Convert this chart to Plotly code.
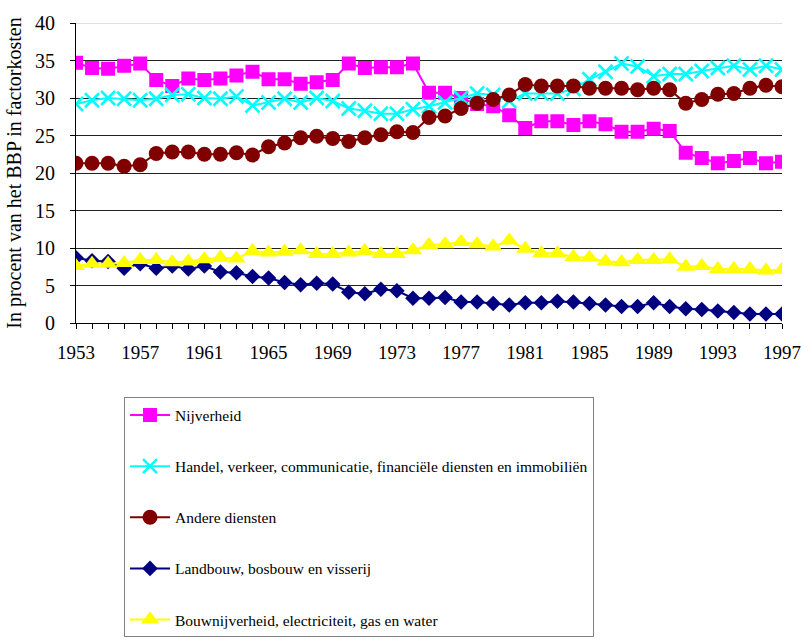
import plotly.graph_objects as go

years = list(range(1953, 1998))

nijverheid = [34.7, 34.0, 33.9, 34.3, 34.6, 32.4, 31.6, 32.6, 32.4, 32.6,
              33.0, 33.5, 32.5, 32.5, 31.9, 32.1, 32.4, 34.6, 34.0, 34.1,
              34.1, 34.6, 30.7, 30.7, 30.0, 29.2, 28.9, 27.7, 26.0, 26.9,
              26.9, 26.4, 26.9, 26.5, 25.5, 25.5, 25.9, 25.6, 22.7, 22.0,
              21.3, 21.6, 22.0, 21.3, 21.5]

handel = [29.2, 29.7, 30.0, 29.9, 29.7, 29.9, 30.4, 30.5, 30.0, 29.9,
          30.2, 29.0, 29.4, 29.9, 29.4, 30.0, 29.6, 28.6, 28.3, 27.9,
          27.9, 28.5, 28.9, 29.4, 30.0, 30.6, 30.4, 29.6, 30.6, 30.6,
          30.6, 31.2, 32.5, 33.5, 34.6, 34.2, 32.9, 33.2, 33.2, 33.6,
          34.0, 34.3, 33.8, 34.3, 33.8]

andere = [21.3, 21.3, 21.3, 20.9, 21.1, 22.6, 22.8, 22.8, 22.5, 22.5,
          22.7, 22.4, 23.5, 24.0, 24.7, 24.9, 24.6, 24.2, 24.7, 25.1,
          25.5, 25.4, 27.4, 27.6, 28.6, 29.3, 29.8, 30.4, 31.8, 31.6,
          31.6, 31.6, 31.3, 31.3, 31.3, 31.1, 31.3, 31.1, 29.3, 29.8,
          30.5, 30.6, 31.3, 31.7, 31.5]

landbouw = [8.7, 8.3, 8.2, 7.3, 7.9, 7.3, 7.6, 7.2, 7.6, 6.8,
            6.7, 6.2, 6.0, 5.4, 5.1, 5.3, 5.2, 4.1, 3.9, 4.5,
            4.3, 3.3, 3.3, 3.4, 2.8, 2.8, 2.6, 2.4, 2.7, 2.7,
            2.9, 2.8, 2.6, 2.4, 2.2, 2.2, 2.7, 2.2, 1.9, 1.8,
            1.6, 1.4, 1.2, 1.2, 1.2]

bouw = [7.6, 7.9, 7.9, 8.0, 8.4, 8.4, 8.1, 8.2, 8.5, 8.7,
        8.6, 9.6, 9.4, 9.5, 9.7, 9.2, 9.2, 9.4, 9.6, 9.2,
        9.2, 9.7, 10.4, 10.5, 10.8, 10.5, 10.2, 11.0, 9.9, 9.3,
        9.3, 8.8, 8.7, 8.2, 8.1, 8.4, 8.4, 8.5, 7.5, 7.6,
        7.2, 7.2, 7.2, 7.0, 7.1]

series_names = [
    "Nijverheid",
    "Handel, verkeer, communicatie, financiële diensten en immobiliën",
    "Andere diensten",
    "Landbouw, bosbouw en visserij",
    "Bouwnijverheid, electriciteit, gas en water",
]

x_tick_years = list(range(1953, 1998, 4))
y_ticks = list(range(0, 41, 5))

FONT = "Liberation Serif"

styles = [
    dict(color="#FF00FF", symbol="square", size=14, lw=0),
    dict(color="#00FFFF", symbol="x-thin", size=14, lw=2.5),
    dict(color="#800000", symbol="circle", size=15, lw=0),
    dict(color="#000080", symbol="diamond", size=12, lw=0),
    dict(color="#FFFF00", symbol="triangle-up", size=16, lw=0),
]

fig = go.Figure()
for name, values, st in zip(series_names, [nijverheid, handel, andere, landbouw, bouw], styles):
    marker = dict(symbol=st["symbol"], size=st["size"], color=st["color"])
    if st["lw"]:
        marker["line"] = dict(color=st["color"], width=st["lw"])
    else:
        marker["line"] = dict(width=0)
    fig.add_trace(go.Scatter(
        x=years, y=values, name=name, mode="lines+markers",
        line=dict(color=st["color"], width=2),
        marker=marker, legendgroup=name,
    ))

fig.update_layout(
    width=801, height=643,
    margin=dict(l=76, r=19, t=23, b=320, autoexpand=False),
    paper_bgcolor="white", plot_bgcolor="white",
    font=dict(family=FONT, size=18, color="black"),
    showlegend=True,
    legend=dict(
        x=0.068, y=-0.248, xanchor="left", yanchor="top",
        bordercolor="#808080", borderwidth=1, bgcolor="white",
        font=dict(family=FONT, size=15.5, color="black"),
        tracegroupgap=28, itemwidth=40,
    ),
    xaxis=dict(
        range=[1953, 1997], tickmode="array", tickvals=years,
        ticktext=[str(y) if y in x_tick_years else "" for y in years],
        ticks="outside", ticklen=5, tickcolor="black",
        showline=True, linecolor="black", linewidth=1,
        showgrid=False, zeroline=False, automargin=False,
        tickfont=dict(family=FONT, size=19), ticklabelstandoff=7,
    ),
    yaxis=dict(
        range=[0, 40], tickvals=y_ticks,
        ticks="outside", ticklen=5, tickcolor="black",
        showline=True, linecolor="black", linewidth=1,
        showgrid=True, gridcolor="#202020", gridwidth=1,
        zeroline=False, automargin=False,
        title=dict(text="In procent van het BBP in factorkosten",
                   font=dict(family=FONT, size=20), standoff=8),
        tickfont=dict(family=FONT, size=20), ticklabelstandoff=11,
    ),
)

# lighter line along the top of the plot area
fig.add_shape(type="line", xref="paper", yref="y", x0=0, x1=1, y0=40, y1=40,
              line=dict(color="#c0c0c0", width=1), layer="above")

fig.write_html("out.html")
